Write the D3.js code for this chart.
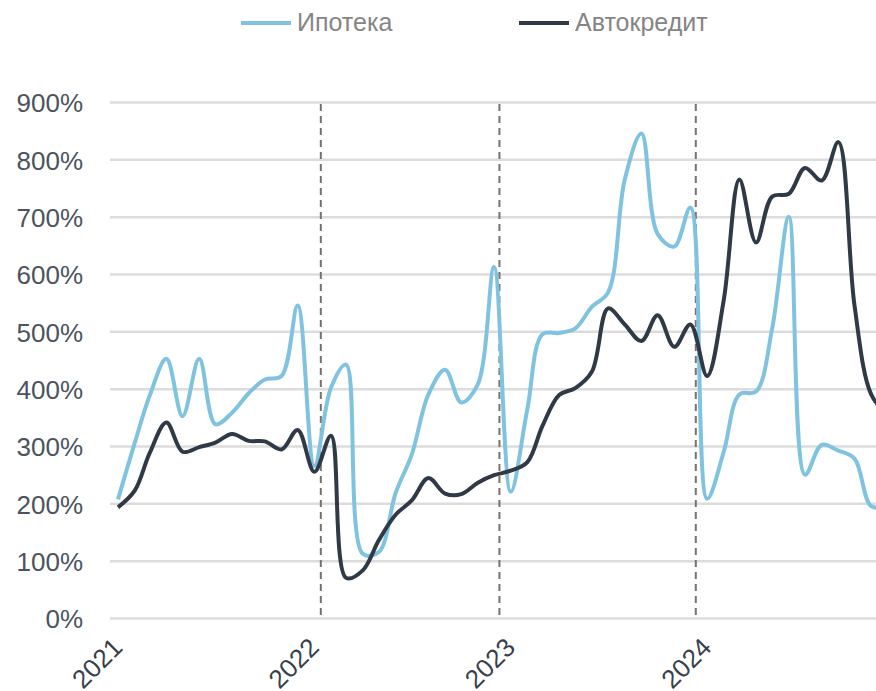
<!DOCTYPE html>
<meta charset="utf-8">
<script src="https://d3js.org/d3.v7.min.js"></script>
<style>
    body { margin: 0; background: #fff; }
    text { font-family: "Liberation Sans", Arial, sans-serif; }
</style>
<body>
    <div id="chart"></div>
</body>
<script>

    // monthly points, Jan 2021 .. Dec 2024
    var months = d3.utcMonths(new Date(Date.UTC(2021, 0, 1)), new Date(Date.UTC(2025, 0, 1)));

    // Ипотека, %
    var mortgage = [
        207, 305, 388, 452, 352, 452, 338, 358, 392, 416, 422, 545,
        265, 402, 442, 112, 115, 218, 285, 390, 433, 376, 408, 612,
        220, 365, 495, 497, 505, 543, 568, 765, 845, 670, 648, 716,
        208, 290, 390, 395, 505, 700, 250, 302, 292, 278, 195, 195
    ];

    // Автокредит, %
    var autoLoan = [
        193, 222, 288, 341, 290, 298, 306, 321, 309, 308, 294, 328,
        255, 318, 70, 83, 136, 180, 205, 244, 217, 216, 236, 249,
        257, 272, 335, 389, 401, 430, 540, 512, 483, 528, 473, 512,
        422, 555, 765, 655, 735, 740, 785, 763, 830, 545, 390, 355
    ];

    var seriesNames = ["Ипотека", "Автокредит"];
    var seriesColors = ["#7fc3e0", "#2f3a46"];
    var yTicks = [0, 100, 200, 300, 400, 500, 600, 700, 800, 900];
    var yearLabels = ["2021", "2022", "2023", "2024"];
    var markerDates = ["2022-01-13", "2022-12-11", "2023-12-11"];

    var width = 876, height = 691;
    var plotLeft = 110, plotRight = 876, plotTop = 102, plotBottom = 618;

    var svg = d3.select("#chart")
        .append("svg")
        .attr("width", width)
        .attr("height", height);

    var x = d3.scaleUtc()
        .domain([new Date(Date.UTC(2021, 0, 1)), new Date(Date.UTC(2025, 0, 1))])
        .range([118, 904]);

    var y = d3.scaleLinear()
        .domain([0, 900])
        .range([plotBottom, plotTop]);

    // Y axis with gridlines
    var yAxis = svg.append("g")
        .attr("transform", "translate(" + plotLeft + ",0)")
        .call(d3.axisLeft(y).tickValues(yTicks)
            .tickSize(-(plotRight - plotLeft))
            .tickPadding(27)
            .tickFormat(function (d) { return d + "%"; }));
    yAxis.select(".domain").remove();
    yAxis.selectAll("line")
        .attr("stroke", "#dcdcdc")
        .attr("stroke-width", 2.5);
    yAxis.selectAll("text")
        .attr("dy", "0.38em")
        .style("font-size", "26px")
        .style("fill", "#4b545e");

    // dashed vertical markers
    svg.append("g")
        .selectAll("line")
        .data(markerDates)
        .enter()
        .append("line")
        .attr("x1", function (d) { return x(new Date(d)); })
        .attr("x2", function (d) { return x(new Date(d)); })
        .attr("y1", y(900) + 2)
        .attr("y2", y(0))
        .attr("stroke", "#7a706c")
        .attr("stroke-width", 2)
        .attr("stroke-dasharray", "7,5");

    // X labels, rotated
    svg.append("g")
        .selectAll("text")
        .data(yearLabels)
        .enter()
        .append("text")
        .attr("text-anchor", "end")
        .attr("transform", function (d) {
            var px = x(new Date(Date.UTC(+d, 0, 1))) + 6;
            return "translate(" + px + ",649) rotate(-45)";
        })
        .style("font-size", "26px")
        .style("fill", "#36404b")
        .text(function (d) { return d; });

    // lines
    var line = d3.line()
        .x(function (d, i) { return x(months[i]); })
        .y(function (d) { return y(d); })
        .curve(d3.curveCatmullRom.alpha(0.5));

    [mortgage, autoLoan].forEach(function (values, k) {
        svg.append("path")
            .datum(values)
            .attr("fill", "none")
            .attr("stroke", seriesColors[k])
            .attr("stroke-width", 4)
            .attr("stroke-linejoin", "round")
            .attr("d", line);
    });

    // legend
    var legendX = [241, 519];
    var legend = svg.append("g")
        .selectAll("g")
        .data(seriesNames)
        .enter()
        .append("g")
        .attr("transform", function (d, i) { return "translate(" + legendX[i] + ",0)"; });
    legend.append("line")
        .attr("x1", 0).attr("x2", 50)
        .attr("y1", 23).attr("y2", 23)
        .attr("stroke", function (d, i) { return seriesColors[i]; })
        .attr("stroke-width", 4);
    legend.append("text")
        .attr("x", 56)
        .attr("y", 31)
        .style("font-size", "25px")
        .style("fill", "#858585")
        .text(function (d) { return d; });

</script>
